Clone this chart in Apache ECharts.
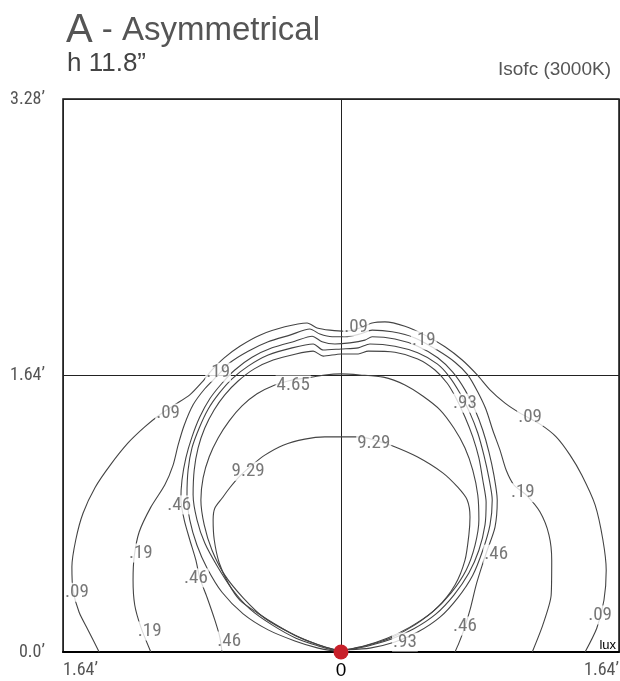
<!DOCTYPE html>
<html>
<head>
<meta charset="utf-8">
<script src="https://cdn.jsdelivr.net/npm/echarts@6/dist/echarts.min.js"></script>
<style>
  html, body { margin: 0; padding: 0; background: #fff; }
  #container { width: 620px; height: 681px; }
</style>
</head>
<body>
<div id="container"></div>
<script>
var dom = document.getElementById('container');
var myChart = echarts.init(dom, null, { renderer: 'canvas' });

// distances in cm (0.5 m = 1.64 ft), light sits at (0, 0)
const xTickLabels = ['1.64\u2019', '0', '1.64\u2019'];
const yTickLabels = ['0.0\u2019', '1.64\u2019', '3.28\u2019'];

// isolux lines, [x, y] in cm
const line09 = [[-43.5,0],[-45.5,4.0],[-47.1,7.2],[-48.2,11.2],[-48.4,15.4],[-47.7,20.3],[-46.4,25.1],[-44.2,29.8],[-41.5,33.8],[-38.3,37.8],[-35.3,40.7],[-32.6,42.9],[-29.9,44.7],[-27.2,46.5],[-25.0,48.8],[-23.2,51.0],[-21.0,53.2],[-18.2,55.3],[-14.6,57.3],[-10.1,58.8],[-6.1,59.5],[-4.3,58.6],[-2.0,58.2],[0.7,58.0],[3.4,58.6],[5.6,59.5],[7.9,59.7],[11.5,58.9],[15.1,57.3],[18.7,55.2],[21.8,52.8],[24.5,50.1],[26.8,47.4],[29.5,45.0],[32.2,43.2],[35.8,41.2],[38.7,38.9],[41.2,35.6],[43.3,32.0],[45.7,26.6],[47.1,20.3],[47.7,14.8],[47.3,9.4],[46.0,4.3],[43.9,0]];
const line19 = [[-34.2,0],[-36.0,4.5],[-37.1,8.5],[-37.4,13.0],[-37.2,17.2],[-36.3,21.7],[-34.2,26.2],[-31.7,30.2],[-30.2,33.8],[-29.3,37.4],[-28.2,41.0],[-26.6,44.7],[-24.5,47.6],[-22.3,49.9],[-20.0,52.3],[-16.7,54.4],[-13.1,56.1],[-9.2,57.3],[-5.6,58.4],[-3.8,57.5],[-1.6,57.0],[0.7,57.0],[3.4,57.5],[5.6,58.2],[9.2,57.9],[13.3,56.8],[17.3,54.6],[20.5,52.4],[22.8,50.1],[24.6,47.0],[26.1,43.8],[27.3,40.1],[28.6,36.5],[29.7,32.9],[31.1,30.2],[33.3,28.4],[35.8,25.3],[37.4,21.2],[37.9,16.6],[37.8,10.3],[36.3,4.9],[34.4,0]];
const line46 = [[-21.4,0],[-21.8,2.7],[-22.7,5.8],[-24.1,9.9],[-25.4,13.4],[-26.1,16.6],[-27.2,20.3],[-28.2,23.9],[-28.8,27.5],[-28.6,31.1],[-27.9,35.1],[-26.8,38.9],[-25.4,42.5],[-23.6,45.8],[-21.4,48.6],[-19.1,51.0],[-16.0,53.3],[-12.4,55.0],[-8.3,56.2],[-5.2,57.1],[-3.4,56.1],[-1.1,55.7],[1.6,55.9],[4.3,56.4],[5.6,57.0],[9.7,56.6],[13.8,55.3],[17.4,53.2],[20.1,50.6],[22.3,47.4],[24.1,43.8],[25.5,40.1],[26.6,36.2],[27.5,32.0],[28.1,27.5],[27.7,22.6],[26.3,18.4],[25.4,15.7],[24.3,12.1],[23.2,7.6],[22.1,4.0],[21.2,1.6],[20.5,0]];
const line93 = [[-1.3,0.2],[-4.1,0.7],[-8.3,2.0],[-13.1,4.0],[-17.6,6.9],[-21.4,10.8],[-24.1,15.2],[-25.9,19.3],[-27.2,23.9],[-27.7,28.4],[-27.5,32.9],[-26.8,36.9],[-25.5,40.5],[-23.9,43.9],[-21.9,46.8],[-19.6,49.4],[-16.7,51.7],[-13.1,53.7],[-8.8,55.0],[-5.0,55.7],[-3.2,54.6],[0,54.8],[3.1,55.0],[5.2,55.7],[9.7,55.3],[13.8,54.1],[17.3,52.1],[19.4,49.9],[21.4,46.8],[23.2,43.2],[24.6,39.6],[25.7,35.6],[26.6,31.5],[27.2,27.5],[26.8,23.0],[25.5,18.4],[23.7,13.9],[21.0,9.8],[17.8,6.3],[13.8,3.6],[9.7,1.8],[5.2,0.7],[1.3,0.4]];
const line232 = [[-0.9,0.2],[-4.1,1.1],[-8.1,2.5],[-12.4,4.9],[-16.4,7.8],[-19.6,11.4],[-22.3,15.6],[-24.5,19.7],[-25.9,23.9],[-26.6,28.4],[-26.4,32.9],[-25.7,36.9],[-24.5,40.5],[-22.8,43.8],[-20.9,46.5],[-18.5,49.0],[-15.6,51.2],[-12.2,52.8],[-8.1,53.9],[-5.0,54.4],[-3.2,53.5],[0,53.9],[3.1,53.9],[4.9,54.4],[9.7,54.2],[13.8,53.0],[16.9,51.0],[19.1,48.6],[20.7,45.9],[22.3,42.5],[23.7,38.9],[24.8,35.1],[25.5,31.1],[26.1,27.1],[25.9,23.0],[24.8,18.4],[23.0,14.3],[20.3,10.3],[17.1,6.9],[13.1,4.2],[9.2,2.4],[4.9,1.1],[1.4,0.4]];
const line465 = [[-0.5,0.2],[-4.1,1.3],[-8.8,3.3],[-13.7,6.1],[-17.6,9.8],[-20.9,13.9],[-23.2,18.4],[-24.6,23.0],[-25.2,27.5],[-24.8,31.5],[-23.7,35.3],[-22.1,38.7],[-20.1,41.8],[-17.8,44.5],[-15.1,46.7],[-11.9,48.3],[-8.8,49.2],[-6.5,49.5],[-2.9,50.1],[0,50.3],[3.4,50.1],[7.6,49.7],[11.5,48.3],[14.7,46.3],[17.8,43.8],[20.3,40.5],[22.3,36.9],[23.7,32.9],[24.6,28.4],[24.8,23.9],[24.1,19.3],[22.5,14.8],[19.8,10.7],[16.4,7.2],[12.4,4.5],[8.3,2.5],[4.1,1.1],[0.7,0.4]];
const line929 = [[-0.4,0.2],[-4.1,1.3],[-7.7,2.7],[-11.3,4.7],[-15.1,7.1],[-18.2,9.4],[-20.3,12.5],[-21.9,16.1],[-22.8,20.3],[-23.0,23.9],[-22.7,26.0],[-21.4,27.8],[-20.0,29.7],[-18.2,31.8],[-16.0,33.8],[-13.7,35.6],[-10.4,37.4],[-6.5,38.5],[-2.9,38.9],[0,38.9],[3.4,38.9],[6.1,38.3],[9.2,37.3],[13.7,35.3],[18.3,32.4],[21.0,29.8],[22.7,27.5],[23.2,24.4],[23.0,21.2],[22.3,16.6],[20.5,12.1],[17.4,8.1],[13.3,4.9],[8.8,2.5],[4.3,1.1],[0.9,0.4]];

// value tags written on the lines
const tagText = ['.09', '.19', '.19', '4.65', '.93', '.09', '.09', '9.29', '9.29', '.19', '.46', '.46', '.46', '.46', '.46', '.19', '.19', '.09', '.09', '.93'];
const tagX = [2.7, 14.9, -22.1, -8.6, 22.3, -31.1, 34.0, 5.9, -16.7, 32.7, -29.1, -26.1, -20.1, 27.9, 22.3, -36.0, -34.4, -47.5, 46.6, 11.5];
const tagY = [58.8, 56.4, 50.6, 48.3, 45.0, 43.2, 42.5, 37.8, 32.7, 28.8, 26.6, 13.4, 2.0, 17.7, 4.7, 17.9, 3.8, 10.8, 6.7, 1.8];

const lines = [line09, line19, line46, line93, line232, line465, line929];

const labelFont = "'Liberation Sans Narrow', 'Roboto Condensed', 'Liberation Sans', sans-serif";
const textFont = "'Liberation Sans', Arial, sans-serif";

var series = lines.map(pts => ({
  type: 'line',
  data: pts,
  showSymbol: false,
  smooth: 0.25,
  lineStyle: { color: '#444', width: 1.1 },
  z: 3,
  silent: true
}));

series.push({
  type: 'scatter',
  data: tagX.map((x, i) => [x, tagY[i], tagText[i]]),
  symbolSize: 1,
  itemStyle: { color: 'rgba(0,0,0,0)' },
  label: {
    show: true,
    position: 'inside',
    formatter: p => p.data[2],
    fontFamily: labelFont,
    fontSize: 19,
    color: '#555',
    backgroundColor: '#fff',
    padding: [0, 1]
  },
  z: 5,
  silent: true
});

// the light point
series.push({
  type: 'scatter',
  data: [[0, 0]],
  symbolSize: 15,
  itemStyle: { color: '#c8202a', opacity: 1 },
  clip: false,
  z: 10,
  silent: true
});

var option = {
  animation: false,
  backgroundColor: '#fff',
  title: [{
    text: '{a|A}{b| - Asymmetrical}',
    left: 61,
    top: 6,
    textStyle: {
      rich: {
        a: { fontFamily: textFont, fontSize: 40, fontWeight: 'normal', color: '#555' },
        b: { fontFamily: textFont, fontSize: 33, fontWeight: 'normal', color: '#555' }
      }
    }
  }, {
    text: 'h 11.8\u201d',
    left: 62,
    top: 46,
    textStyle: { fontFamily: textFont, fontSize: 26, fontWeight: 'normal', color: '#444' }
  }, {
    text: 'Isofc (3000K)',
    right: 4,
    top: 55,
    textStyle: { fontFamily: textFont, fontSize: 19, fontWeight: 'normal', color: '#555' }
  }],
  grid: {
    left: 63,
    top: 99,
    width: 556,
    height: 553,
    show: true,
    borderColor: '#111',
    borderWidth: 1.5,
    outerBoundsMode: 'none'
  },
  xAxis: {
    type: 'value',
    min: -50,
    max: 50,
    interval: 50,
    axisLine: { show: true, lineStyle: { color: '#000', width: 2 } },
    axisTick: { show: false },
    splitLine: { show: true, lineStyle: { color: '#222', width: 1 } },
    axisLabel: {
      margin: 9,
      alignMinLabel: 'left',
      alignMaxLabel: 'right',
      formatter: (v, i) => v === 0 ? '{z|0}' : '{t|' + xTickLabels[i] + '}',
      rich: {
        z: { fontFamily: textFont, fontSize: 19, color: '#000' },
        t: { fontFamily: labelFont, fontSize: 18, color: '#555' }
      }
    }
  },
  yAxis: {
    type: 'value',
    min: 0,
    max: 100,
    interval: 50,
    axisLine: { show: false },
    axisTick: { show: false },
    splitLine: { show: true, lineStyle: { color: '#222', width: 1 } },
    axisLabel: {
      margin: 18,
      fontFamily: labelFont,
      fontSize: 18,
      color: '#555',
      formatter: (v, i) => yTickLabels[i]
    }
  },
  graphic: [{
    type: 'text',
    right: 4,
    top: 639,
    style: { text: 'lux', fontFamily: textFont, fontSize: 13, fill: '#000' },
    z: 20
  }],
  series: series
};

myChart.setOption(option);
window.addEventListener('resize', myChart.resize);
</script>
</body>
</html>
